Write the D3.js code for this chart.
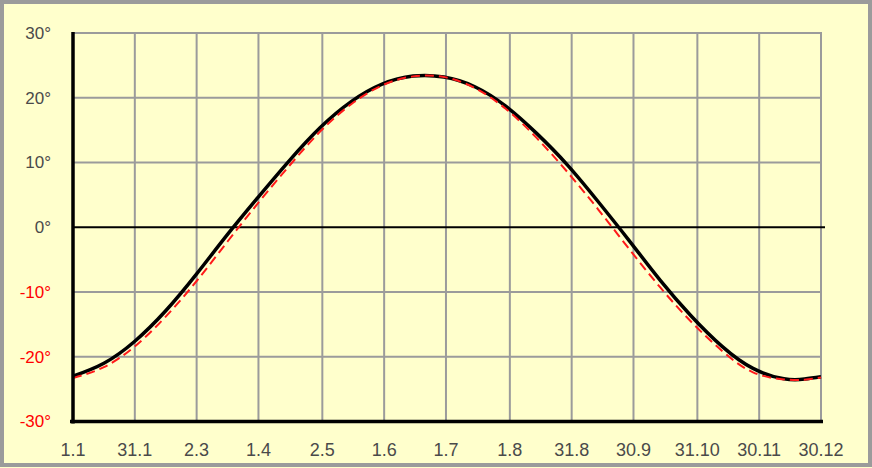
<!DOCTYPE html>
<html>
<head>
<meta charset="utf-8">
<script src="https://cdnjs.cloudflare.com/ajax/libs/d3/7.8.5/d3.min.js"></script>
<style>
  body { margin: 0; background: #ffffcc; }
  svg { display: block; }
</style>
</head>
<body>
<div id="chart"></div>
<script>
// ---------------- DATA ----------------
// day of year for the labelled ticks
var tickDays = [1, 31, 61, 91, 122, 152, 182, 213, 243, 273, 304, 334, 364];
var tickLabels = ["1.1", "31.1", "2.3", "1.4", "2.5", "1.6", "1.7", "1.8", "31.8", "30.9", "31.10", "30.11", "30.12"];
var yTicks = [-30, -20, -10, 0, 10, 20, 30];

// sample days for both curves
var days = [1, 16, 31, 46, 61, 76, 91, 106, 121, 136, 151, 166, 181, 196, 211, 226, 241, 256, 271, 286, 301, 316, 331, 346, 356, 364];
// black solid curve (declination, degrees)
var declination = [-23.0, -21.0, -17.6, -12.9, -7.2, -1.1, 4.7, 10.3, 15.4, 19.4, 22.1, 23.35, 23.2, 21.7, 18.7, 14.5, 9.6, 3.9, -2.1, -8.2, -13.7, -18.4, -21.8, -23.4, -23.45, -23.1];
// red dashed curve (approximation)
var approx = [-23.3, -21.6, -18.4, -13.8, -8.3, -2.2, 3.8, 9.5, 14.8, 19.0, 21.9, 23.3, 23.2, 21.5, 18.3, 13.8, 8.5, 2.7, -3.4, -9.3, -14.6, -19.1, -22.4, -23.5, -23.55, -23.2];

(function() {
    var width = 872,
        height = 468;

    var svg = d3.select("#chart")
        .append("svg")
        .attr("width", width)
        .attr("height", height);

    // frame
    svg.append("rect")
        .attr("x", 2).attr("y", 2)
        .attr("width", width - 4).attr("height", height - 5)
        .attr("fill", "#ffffcc")
        .attr("stroke", "#9b9b9b")
        .attr("stroke-width", 4);

    var x = d3.scaleLinear().domain([1, 364]).range([73, 821]);
    var y = d3.scaleLinear().domain([-30, 30]).range([421.5, 33]);

    // ---------- GRID ----------
    svg.append("g")
        .selectAll("line")
        .data(tickDays)
        .enter().append("line")
        .attr("x1", function(d) { return x(d); })
        .attr("x2", function(d) { return x(d); })
        .attr("y1", y(30) - 1)
        .attr("y2", y(-30))
        .attr("stroke", "#9b9b9b")
        .attr("stroke-width", 2);

    svg.append("g")
        .selectAll("line")
        .data(yTicks.filter(function(d) { return d !== 0 && d !== -30; }))
        .enter().append("line")
        .attr("x1", x(1))
        .attr("x2", x(364) + 1)
        .attr("y1", function(d) { return y(d); })
        .attr("y2", function(d) { return y(d); })
        .attr("stroke", "#9b9b9b")
        .attr("stroke-width", 2);

    // zero line
    svg.append("line")
        .attr("x1", x(1)).attr("x2", x(364) + 4)
        .attr("y1", y(0)).attr("y2", y(0))
        .attr("stroke", "#000")
        .attr("stroke-width", 2);

    // ---------- CURVES ----------
    var black = days.map(function(d, i) { return [d, declination[i]]; });
    var red = days.map(function(d, i) { return [d, approx[i]]; });

    var line = d3.line()
        .x(function(d) { return x(Math.min(d[0], 364)); })
        .y(function(d) { return y(d[1]); })
        .curve(d3.curveNatural);

    svg.append("path")
        .datum(black)
        .attr("d", line)
        .attr("fill", "none")
        .attr("stroke", "#000")
        .attr("stroke-width", 3.5);

    svg.append("path")
        .datum(red)
        .attr("d", line)
        .attr("fill", "none")
        .attr("stroke", "#ff1a1a")
        .attr("stroke-width", 2)
        .attr("stroke-dasharray", "9,5");

    // ---------- AXES ----------
    svg.append("line")
        .attr("x1", x(1)).attr("x2", x(1))
        .attr("y1", y(30) - 1).attr("y2", y(-30) + 2)
        .attr("stroke", "#000")
        .attr("stroke-width", 3.5);

    svg.append("line")
        .attr("x1", x(1) - 3).attr("x2", x(364) + 2)
        .attr("y1", y(-30)).attr("y2", y(-30))
        .attr("stroke", "#000")
        .attr("stroke-width", 3.5);

    // y labels
    svg.append("g")
        .selectAll("text")
        .data(yTicks)
        .enter().append("text")
        .attr("x", 51)
        .attr("y", function(d) { return y(d); })
        .attr("dy", "0.35em")
        .attr("text-anchor", "end")
        .style("font", "17px 'Liberation Sans', Arial, sans-serif")
        .style("fill", function(d) { return d < 0 ? "#ff0000" : "#4a4a4a"; })
        .text(function(d) { return d + "\u00b0"; });

    // x labels
    svg.append("g")
        .selectAll("text")
        .data(tickDays)
        .enter().append("text")
        .attr("x", function(d) { return x(d); })
        .attr("y", 456)
        .attr("text-anchor", "middle")
        .style("font", "18px 'Liberation Sans', Arial, sans-serif")
        .style("fill", "#4a4a4a")
        .text(function(d, i) { return tickLabels[i]; });
})();
</script>
</body>
</html>
